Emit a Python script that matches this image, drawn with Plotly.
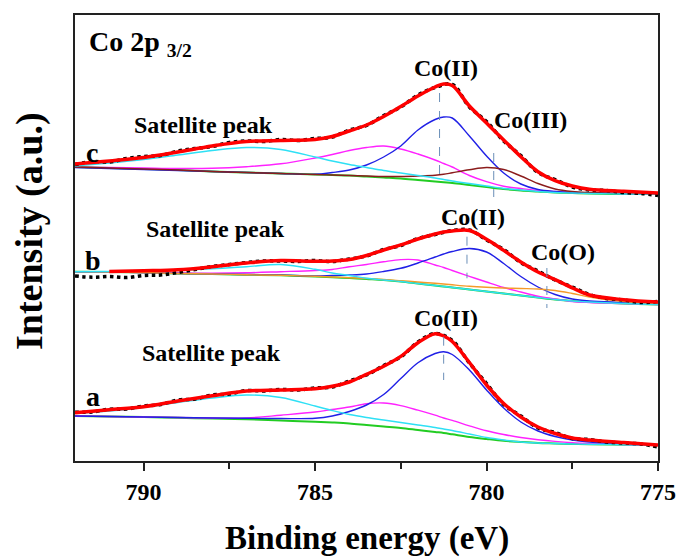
import plotly.graph_objects as go

# ---------------- data (binding energy in eV, intensity in a.u., spectra stacked) ----------------
E = [792, 791, 790, 789, 788, 787, 786, 785, 784.5, 784, 783.5, 783, 782.5, 782,
     781.5, 781.25, 781, 780.5, 780, 779.5, 779, 778.5, 778, 777.5, 777, 776, 775]

E_DATA = [792, 791.5, 791, 790.5, 790, 789.5, 789, 788.5, 788, 787.5, 787, 786.5, 786,
          785.5, 785, 784.5, 784, 783.5, 783, 782.5, 782, 781.5, 781, 780.5, 780,
          779.5, 779, 778.5, 778, 777.5, 777, 776.5, 776, 775.5, 775]

# spectrum c
C_DATA = [296.5, 299.5, 299, 302.5, 304.5, 305.5, 310, 312.5, 314.5, 318.5, 320, 319.5, 321.5,
          320.5, 322.5, 324, 331, 335.5, 345.5, 354, 366, 373.5, 376.5, 354, 339.5,
          320, 305.5, 288.5, 281.5, 274, 271, 270.5, 268.5, 267.5, 265.5]
C_FIT = [297, 300, 303.5, 309, 315, 319.5, 320.5, 321.5, 324.5, 330, 336, 344.5, 354.5, 365,
         374, 377, 375.5, 355, 338, 321, 304.3, 289.3, 280.3, 275, 271.7, 269.7, 268]
C_BACKGROUND = [294, 293, 292, 291, 289.5, 288.5, 287.5, 286.5, 286, 285.5, 284.5, 283.5, 282.5, 281,
                279.5, 278.7, 278, 276, 274, 272, 270.5, 269.5, 268.5, 268, 267.5, 267, 267]
C_SATELLITE = [295, 298, 301.5, 306, 310.5, 313.5, 311.5, 304, 300, 296.5, 293.5, 290.5, 288, 285.5,
               283, 281.5, 280, 277.5, 275, 272.5, 271, 269.5, 268.5, 268, 267.5, 267, 267]
C_SHAKEUP = [293.7, 293.5, 293, 292.5, 292.7, 294.3, 297.2, 303, 306.5, 310.5, 313.5, 315, 312, 307,
             301, 297.5, 294, 285.5, 279.3, 274.8, 272.5, 270.5, 269.5, 268.5, 268, 267.5, 267]
C_CO2 = [293.5, 292.5, 291.5, 290.5, 289.5, 288.5, 287.5, 286.7, 288.5, 291, 296, 304, 315, 331,
         341.5, 344, 343, 325, 305, 288, 277, 271.5, 269.5, 268.5, 268, 267.5, 267]
C_CO3 = [294, 293, 292, 291, 289.5, 288.5, 287.5, 286.5, 286, 285.5, 285, 284.5, 284.5, 285,
         285.8, 286.7, 288.2, 291.2, 293.5, 291.5, 285, 277.5, 272, 269.5, 268.5, 267.5, 267]

# spectrum b
B_DATA = [185, 183.8, 184.5, 183.5, 185.5, 186, 188.5, 191.5, 194.5, 196.5, 198.5, 200, 200,
          199.5, 200.5, 199.5, 202, 205, 211.5, 215.5, 222.5, 226.5, 230.5, 231, 221,
          211.5, 198.5, 190, 181, 174, 166.5, 162.5, 161, 158.5, 159.5]
B_FIT = [None, 189.5, 190.2, 191.2, 194.2, 198, 200.5, 199.7, 200, 201.5, 205.5, 211, 216.2, 222,
         227, 229, 230, 230.5, 221.7, 210.6, 199, 189, 181.4, 173.2, 166, 161.3, 159]
B_BACKGROUND = [189.3, 189, 188.5, 187.5, 187, 186.3, 185.7, 184.5, 183.8, 183, 182, 181, 179.5, 177.5,
                175.5, 174.5, 173.5, 171.5, 169.5, 167.5, 165.5, 163.5, 161.5, 160, 159, 157.5, 156.5]
B_SATELLITE = [189.3, 189.5, 190, 190.8, 192.2, 194.3, 196.5, 191.7, 188, 185.5, 182.7, 181, 179.5, 177.5,
               175.5, 174.5, 173.5, 171.5, 169.5, 167.5, 165.5, 163.5, 161.5, 160, 159, 157.5, 156.5]
B_SHAKEUP = [189.3, 189, 188.5, 188, 187.8, 188.2, 189.3, 190.5, 191.5, 194.2, 196.5, 199.2, 201.4, 201,
             196, 193.5, 190.5, 184.7, 179, 173.5, 169, 164.7, 162, 159.5, 158.5, 157.5, 156.5]
B_CO2 = [189.3, 189, 188.5, 187.5, 187, 186.5, 186, 185, 185.5, 186, 187, 189.5, 192.7, 198,
         204, 207, 209.5, 212.5, 209, 197.5, 184.5, 174, 166.5, 162, 160, 158.5, 157]
B_CO0 = [189.3, 189, 188.5, 187.5, 187, 186.3, 185.7, 184.7, 184, 183.3, 182.5, 181.5, 180.3, 179,
         177.7, 177, 176.2, 174.7, 173.7, 173, 172.5, 172, 170.5, 167.5, 164, 159.5, 157]

# spectrum a
A_DATA = [48.8, 49, 51.8, 52, 55, 56.5, 61, 62, 66, 67, 70.5, 70, 71.5,
          71, 73, 74, 80, 86, 95.5, 104, 119, 127.5, 120.5, 98, 77.5,
          56.5, 45, 33, 28.5, 22.5, 21.5, 19, 18, 17, 14]
A_FIT = [48.3, 51.3, 54.3, 60, 65.2, 70, 71, 72.3, 74.7, 79, 86.7, 94.7, 104.6, 118.3,
         127.3, 125, 119.5, 98.5, 76, 57.5, 44, 34, 27.5, 23, 21, 18.5, 16]
A_BACKGROUND = [45, 44.5, 44, 43.2, 42.5, 41.8, 40.5, 39.3, 38.5, 37.5, 36, 34.5, 33, 31,
                29, 28, 26.7, 24, 22, 20.2, 19, 18, 17.5, 17, 16.7, 16.3, 16]
A_SATELLITE = [47.7, 50, 53.5, 58.5, 63, 66, 63.5, 55, 50.5, 46.5, 43.5, 41, 38.5, 36,
               33.5, 32, 30.5, 27, 23.5, 21, 19, 18, 17.5, 17, 16.7, 16.3, 16]
A_SHAKEUP = [45, 44.5, 44, 43.5, 43, 43, 45.8, 49, 51.5, 54, 57.3, 58, 55.4, 50.8,
             45.8, 43, 40.7, 35.2, 30.2, 26.5, 23.5, 21.3, 19.6, 18.3, 17.5, 16.5, 16]
A_CO2 = [45, 44.5, 44, 43.5, 43, 42.7, 42.5, 42.7, 45, 49.5, 56, 66.5, 82.5, 98.3,
         107.5, 109.3, 106.5, 91, 71, 53, 39, 30, 24.5, 21, 19, 17, 16]

# peak position markers (dashed lines)
PEAK_E = [781.37, 779.79, 780.57, 778.24, 781.25]
PEAK_TOP = [368, 308, 224.3, 193, 124.3]
PEAK_BOTTOM = [286, 264, 182.7, 153, 81]

TICK_VALS = [790, 785, 780, 775]
MINOR_TICK_VALS = [787.5, 782.5, 777.5]

# ---------------- styling ----------------
SERIF = "Liberation Serif, Times New Roman, serif"
RED, BLUE, MAGENTA, CYAN = "#ff0000", "#2020e6", "#ff22ff", "#2ee0f5"
GREEN, BROWN, ORANGE = "#22cc22", "#8b1c1c", "#f59a2a"

fig = go.Figure()


def add_line(x, y, color, width, dash=None):
    fig.add_trace(go.Scatter(
        x=x, y=y, mode="lines",
        line=dict(color=color, width=width, shape="spline", dash=dash),
        hoverinfo="skip", showlegend=False))


spectra = [
    (C_BACKGROUND, [(C_SHAKEUP, MAGENTA), (C_CO2, BLUE), (C_CO3, BROWN), (C_SATELLITE, CYAN)], C_DATA, C_FIT),
    (B_BACKGROUND, [(B_SHAKEUP, MAGENTA), (B_CO2, BLUE), (B_CO0, ORANGE), (B_SATELLITE, CYAN)], B_DATA, B_FIT),
    (A_BACKGROUND, [(A_SHAKEUP, MAGENTA), (A_CO2, BLUE), (A_SATELLITE, CYAN)], A_DATA, A_FIT),
]

for bg, comps, data, fit in spectra:
    add_line(E, bg, GREEN, 2)
    for comp, col in comps:
        add_line(E, comp, col, 1.4)
    add_line(E_DATA, data, "black", 3.5, dash="dot")
    add_line(E, fit, RED, 3.5)

# dashed peak markers
mx, my = [], []
for e, top, bot in zip(PEAK_E, PEAK_TOP, PEAK_BOTTOM):
    mx += [e, e, None]
    my += [top, bot, None]
fig.add_trace(go.Scatter(x=mx, y=my, mode="lines",
                         line=dict(color="#6b8fb8", width=1, dash="dash"),
                         hoverinfo="skip", showlegend=False))

# ---------------- annotations ----------------
labels = [
    ("Co 2p <sub>3/2</sub>", 791.65, 418, 28, "left"),
    ("c", 791.5, 309, 28, "center"),
    ("b", 791.48, 201, 28, "center"),
    ("a", 791.48, 65, 28, "center"),
    ("Satellite peak", 788.24, 336, 24, "center"),
    ("Satellite peak", 787.89, 232, 24, "center"),
    ("Satellite peak", 788.03, 108, 24, "center"),
    ("Co(II)", 781.18, 393, 24, "center"),
    ("Co(III)", 778.73, 341, 24, "center"),
    ("Co(II)", 780.40, 244, 24, "center"),
    ("Co(O)", 777.77, 209, 24, "center"),
    ("Co(II)", 781.18, 143, 24, "center"),
]
for text, x, y, size, anchor in labels:
    fig.add_annotation(x=x, y=y, xref="x", yref="y", text=text, showarrow=False,
                       xanchor=anchor, yanchor="middle",
                       font=dict(family=SERIF, size=size, color="black", weight="bold"))

# axis titles (placed as in the original figure)
fig.add_annotation(x=0.5, y=-0.174, xref="paper", yref="paper", text="Binding energy (eV)",
                   showarrow=False, xanchor="center", yanchor="middle",
                   font=dict(family=SERIF, size=33, color="black", weight="bold"))
fig.add_annotation(x=-0.077, y=0.516, xref="paper", yref="paper", text="Intensity (a.u.)",
                   showarrow=False, xanchor="center", yanchor="middle", textangle=-90,
                   font=dict(family=SERIF, size=38, color="black", weight="bold"))

fig.update_layout(
    width=678, height=558,
    margin=dict(l=75, r=20, t=15, b=97, autoexpand=False),
    paper_bgcolor="white", plot_bgcolor="white",
    showlegend=False,
    font=dict(family=SERIF, color="black"),
)
fig.update_xaxes(
    range=[792, 775], automargin=False,
    tickvals=TICK_VALS, ticktext=[str(v) for v in TICK_VALS],
    ticks="outside", ticklen=8, tickwidth=1.5, tickcolor="#222",
    minor=dict(tickvals=MINOR_TICK_VALS, ticks="outside", ticklen=6, tickwidth=1.5, tickcolor="#222"),
    tickfont=dict(family=SERIF, size=24, color="black", weight="bold"),
    showline=True, linecolor="#222", linewidth=2, mirror=True,
    showgrid=False, zeroline=False,
)
fig.update_yaxes(
    range=[0, 446], automargin=False,
    showticklabels=False, ticks="",
    showline=True, linecolor="#222", linewidth=2, mirror=True,
    showgrid=False, zeroline=False,
)

fig.write_html("out.html")
